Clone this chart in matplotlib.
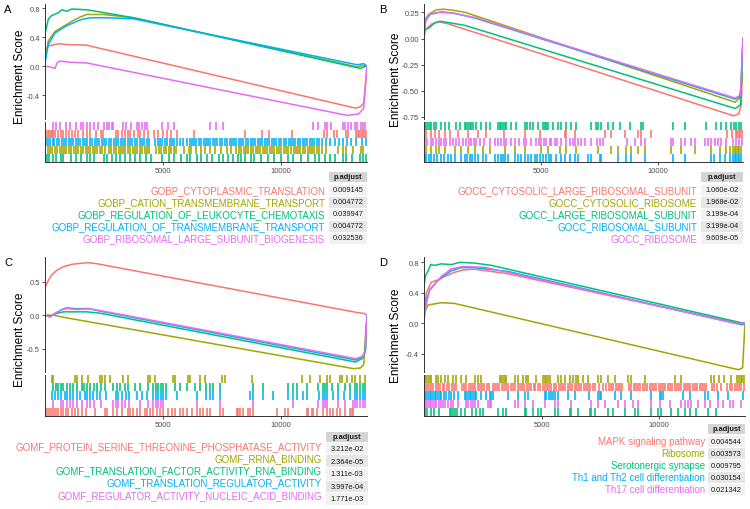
import matplotlib
matplotlib.use('Agg')
import matplotlib.pyplot as plt
from matplotlib.patches import Rectangle

plt.rcParams['font.family'] = ['Liberation Sans', 'DejaVu Sans']

N_GENES = 13650
X_TICKS = [5000, 10000]

# ---------------- panel A : GO BP ----------------
A_DESC = ['GOBP_CYTOPLASMIC_TRANSLATION', 'GOBP_CATION_TRANSMEMBRANE_TRANSPORT',
          'GOBP_REGULATION_OF_LEUKOCYTE_CHEMOTAXIS', 'GOBP_REGULATION_OF_TRANSMEMBRANE_TRANSPORT',
          'GOBP_RIBOSOMAL_LARGE_SUBUNIT_BIOGENESIS']
A_PADJ = ['0.009145', '0.004772', '0.039947', '0.004772', '0.032536']
A_YTICKS = [-0.4, 0.0, 0.4, 0.8]
A_ES_RANK = [
    [0, 140, 570, 920, 1770, 13160, 13370, 13510, 13650],
    [0, 140, 425, 780, 1130, 1490, 1770, 2480, 3750, 13230, 13440, 13650],
    [0, 140, 280, 570, 710, 920, 1130, 1770, 2330, 3750, 13230, 13370, 13510, 13650],
    [0, 140, 425, 920, 1490, 1910, 2620, 3750, 13230, 13510, 13650],
    [0, 210, 425, 520, 640, 1060, 1770, 12810, 13300, 13510, 13650],
]
A_ES_SCORE = [
    [0.21, 0.28, 0.31, 0.30, 0.29, -0.58, -0.56, -0.51, 0.0],
    [0.08, 0.35, 0.48, 0.55, 0.62, 0.68, 0.715, 0.715, 0.67, -0.01, 0.01, 0.0],
    [0.45, 0.65, 0.70, 0.74, 0.78, 0.76, 0.79, 0.78, 0.75, 0.67, -0.02, -0.03, -0.01, 0.0],
    [0.05, 0.30, 0.46, 0.56, 0.64, 0.67, 0.67, 0.655, 0.02, 0.035, 0.0],
    [0.0, -0.01, -0.03, 0.05, 0.07, 0.055, 0.045, -0.68, -0.66, -0.58, 0.0],
]
A_HITS = [
    [0, 60, 120, 180, 240, 300, 350, 420, 570, 670, 780, 890, 1030, 1130, 1270, 1410, 1600, 1770,
     1900, 2160, 2360, 2470, 3010, 3110, 3260, 3400, 3500, 3610, 3760, 3930, 4040, 4210, 4350, 4610,
     4780, 5000, 5170, 5340, 5600, 6310, 8470, 9210, 9500, 10490, 11840, 11950, 12240, 12380, 12750,
     12850, 13180, 13250, 13320, 13390, 13460, 13530, 13600],
    [20, 110, 230, 310, 420, 500, 620, 720, 800, 910, 1020, 1110, 1230, 1310, 1420, 1520, 1610, 1720,
     1830, 1910, 2020, 2130, 2210, 2330, 2420, 2560, 2700, 2790, 2910, 3010, 3120, 3210, 3320, 3410,
     3530, 3620, 3720, 3830, 3920, 4030, 4120, 4230, 4330, 4420, 4700, 4820, 4910, 5030, 5120, 5250,
     5350, 5470, 5560, 5900, 6100, 6200, 6420, 6600, 6800, 7000, 7200, 7450, 7700, 7900, 8100, 8230,
     8320, 8430, 8520, 8610, 8720, 8820, 8930, 9020, 9120, 9230, 9320, 9420, 9530, 9620, 9720, 9830,
     9920, 10020, 10130, 10230, 10320, 10420, 10540, 10620, 10730, 10830, 10920, 11030, 11130, 11220,
     11330, 11420, 11530, 11620, 11740, 11900, 12400, 12620, 12780, 13050, 13380, 13500],
    [70, 185, 355, 470, 665, 780, 1095, 1320, 1520, 1775, 1915, 2085, 2485, 2625, 2840, 3025, 3195,
     3410, 3595, 3835, 4045, 4300, 4475, 4970, 5255, 5465, 5750, 6035, 6150, 6460, 6605, 6885, 7100,
     7385, 7525, 7740, 7950, 8165, 8305, 8475, 8735, 8875, 9160, 9445, 9725, 10010, 10295, 10510,
     10865, 11145, 11460, 11600, 11855, 12070, 12285, 12640, 12780, 12995, 13350, 13490, 13590],
    [30, 130, 210, 320, 400, 520, 610, 700, 820, 900, 1010, 1120, 1200, 1310, 1400, 1500, 1620, 1710,
     1800, 1920, 2010, 2120, 2200, 2310, 2420, 2510, 2600, 2720, 2810, 2920, 3010, 3100, 3220, 3310,
     3400, 3520, 3610, 3700, 3810, 3920, 4010, 4110, 4200, 4320, 4420, 4680, 4780, 4870, 4980, 5080,
     5170, 5280, 5370, 5470, 5600, 5730, 5860, 6040, 6130, 6220, 6330, 6420, 6530, 6610, 6720, 6810,
     6920, 7010, 7130, 7220, 7310, 7420, 7520, 7610, 7720, 7830, 7910, 8020, 8110, 8230, 8320, 8410,
     8520, 8610, 8720, 8820, 8910, 9020, 9110, 9220, 9310, 9420, 9510, 9630, 9720, 9810, 9920, 10010,
     10120, 10210, 10330, 10420, 10520, 10610, 10730, 10820, 10930, 11020, 11120, 11230, 11330, 11420,
     11530, 11620, 11760, 11900, 12100, 12300, 12480, 12650, 12800, 12980, 13200, 13420, 13600],
    [340, 480, 650, 880, 1080, 1310, 1510, 1620, 1760, 1900, 2070, 2260, 2500, 2610, 2730, 2830, 2900,
     3320, 3440, 3640, 3890, 4000, 4100, 4240, 4340, 4960, 5210, 5450, 7010, 7230, 7550, 11350, 11560,
     11850, 11960, 12130, 12630, 12730, 12840, 12980, 13130, 13240, 13380, 13480, 13580],
]

# ---------------- panel B : GO CC ----------------
B_DESC = ['GOCC_CYTOSOLIC_LARGE_RIBOSOMAL_SUBUNIT', 'GOCC_CYTOSOLIC_RIBOSOME',
          'GOCC_LARGE_RIBOSOMAL_SUBUNIT', 'GOCC_RIBOSOMAL_SUBUNIT', 'GOCC_RIBOSOME']
B_PADJ = ['1.060e-02', '1.968e-02', '3.199e-04', '3.199e-04', '9.609e-05']
B_YTICKS = [-0.75, -0.50, -0.25, 0.00, 0.25]
B_ES_RANK = [
    [0, 40, 330, 615, 1040, 13250, 13470, 13580, 13650],
    [0, 70, 260, 540, 830, 1260, 1760, 13320, 13490, 13610, 13650],
    [0, 40, 260, 470, 685, 1115, 1760, 13320, 13540, 13650],
    [0, 70, 260, 755, 1330, 2185, 13320, 13540, 13650],
    [0, 70, 185, 615, 1185, 2185, 13320, 13540, 13650],
]
B_ES_SCORE = [
    [0.0, 0.08, 0.14, 0.16, 0.14, -0.74, -0.72, -0.63, 0.0],
    [0.05, 0.19, 0.24, 0.275, 0.28, 0.27, 0.25, -0.61, -0.57, -0.41, 0.0],
    [0.0, 0.08, 0.11, 0.15, 0.165, 0.15, 0.125, -0.67, -0.635, 0.0],
    [0.05, 0.17, 0.23, 0.255, 0.24, 0.195, -0.58, -0.55, 0.0],
    [0.05, 0.16, 0.23, 0.25, 0.245, 0.20, -0.57, -0.54, 0.0],
]
B_HITS = [
    [100, 285, 485, 630, 885, 1100, 1455, 1885, 2310, 2665, 3420, 4305, 4950, 6020, 6090, 6445, 7730,
     8015, 8585, 9155, 9300, 9725, 12970, 13180, 13330, 13400, 13470, 13540, 13610],
    [100, 315, 530, 630, 885, 1310, 1570, 1880, 2170, 2525, 2810, 3450, 3880, 4305, 5020, 5305, 5805,
     6090, 6515, 7445, 8015, 8300, 8655, 8870, 9155, 9440, 10580, 11010, 11580, 12290, 12650, 12935,
     13075, 13220, 13290, 13360, 13430, 13500, 13570],
    [30, 100, 170, 240, 310, 430, 530, 740, 885, 1055, 1385, 1525, 1740, 1810, 1880, 1955, 2025, 2095,
     2240, 2455, 2665, 2810, 3165, 3235, 3310, 3380, 3450, 3520, 3735, 3950, 4305, 4420, 4520, 4665,
     4875, 5090, 5160, 5235, 5305, 5520, 5730, 5875, 6090, 6300, 6515, 7160, 7370, 7445, 7560, 7870,
     8085, 8370, 8800, 9270, 9370, 10650, 11150, 12080, 12480, 12720, 12935, 13150, 13260, 13360,
     13460, 13575],
    [30, 100, 200, 315, 430, 570, 710, 855, 1025, 1170, 1310, 1600, 1740, 1855, 1955, 2055, 2170, 2310,
     2525, 2665, 3020, 3165, 3310, 3380, 3480, 3595, 3880, 4020, 4165, 4305, 4450, 4590, 4735, 4850,
     4950, 5090, 5235, 5335, 5450, 5660, 5875, 6020, 6230, 6445, 6590, 7015, 7160, 7515, 7585, 8300,
     8655, 8870, 9440, 10650, 11150, 12290, 12430, 12650, 12865, 13075, 13220, 13290, 13360, 13430,
     13500, 13570],
    [30, 140, 285, 385, 530, 630, 740, 855, 955, 1100, 1240, 1385, 1485, 1670, 1810, 1910, 2025, 2140,
     2240, 2380, 2570, 2810, 3020, 3165, 3280, 3420, 3520, 3735, 3910, 4050, 4280, 4380, 4590, 4810,
     4910, 5020, 5135, 5235, 5380, 5450, 5590, 5705, 5875, 6090, 6230, 6375, 6475, 6590, 6730, 6875,
     7160, 7415, 7515, 7660, 8700, 9010, 9300, 9440, 10580, 10650, 11010, 11150, 11440, 11580, 12010,
     12150, 12290, 12440, 12580, 12720, 12935, 13220, 13360, 13500, 13600],
]

# ---------------- panel C : GO MF ----------------
C_DESC = ['GOMF_PROTEIN_SERINE_THREONINE_PHOSPHATASE_ACTIVITY', 'GOMF_RRNA_BINDING',
          'GOMF_TRANSLATION_FACTOR_ACTIVITY_RNA_BINDING', 'GOMF_TRANSLATION_REGULATOR_ACTIVITY',
          'GOMF_REGULATOR_ACTIVITY_NUCLEIC_ACID_BINDING']
C_PADJ = ['3.212e-02', '2.364e-05', '1.311e-03', '3.997e-04', '1.771e-03']
C_YTICKS = [-0.5, 0.0, 0.5]
C_ES_RANK = [
    [0, 140, 280, 495, 780, 1130, 1490, 1840, 2190, 13230, 13540, 13650],
    [0, 355, 920, 13090, 13370, 13510, 13580, 13650],
    [0, 210, 425, 780, 1770, 2330, 13160, 13440, 13580, 13650],
    [0, 210, 425, 710, 920, 1340, 1840, 2330, 13160, 13440, 13580, 13650],
    [0, 210, 425, 710, 920, 1340, 1840, 2330, 13160, 13440, 13580, 13650],
]
C_ES_SCORE = [
    [0.41, 0.52, 0.60, 0.67, 0.725, 0.76, 0.775, 0.785, 0.77, 0.04, 0.025, 0.0],
    [0.0, 0.0, -0.04, -0.80, -0.79, -0.74, -0.34, 0.0],
    [0.0, -0.02, 0.02, 0.05, 0.05, 0.03, -0.70, -0.65, -0.54, 0.0],
    [0.0, -0.02, 0.02, 0.085, 0.11, 0.095, 0.10, 0.06, -0.67, -0.63, -0.54, 0.0],
    [0.0, -0.03, 0.03, 0.08, 0.10, 0.085, 0.095, 0.07, -0.65, -0.62, -0.54, 0.0],
]
C_HITS = [
    [42, 127, 212, 297, 382, 466, 565, 664, 777, 890, 989, 1130, 1271, 1413, 1554, 1738, 2120, 2543,
     2614, 2897, 3038, 3250, 3533, 3603, 3745, 3886, 4027, 4239, 4310, 4451, 4592, 4734, 4875, 5016,
     5228, 5370, 5511, 5723, 5864, 6005, 6217, 6429, 6570, 6712, 6853, 6994, 7418, 7560, 8125, 8196,
     8266, 8408, 8620, 8690, 8831, 9820, 10174, 10315, 11092, 11163, 11304, 11375, 11516, 11799, 11940,
     12081, 12222, 12364, 12505, 12717, 12929, 12999, 13070],
    [285, 355, 1270, 1345, 1555, 1835, 2330, 2405, 2545, 2755, 3320, 3530, 4380, 4450, 4665, 5440, 5510,
     6075, 6145, 6570, 6780, 7490, 7630, 8760, 10880, 11230, 11655, 11940, 12080, 12505, 12575, 12785,
     13000, 13140, 13350, 13560],
    [353, 466, 565, 664, 749, 947, 1060, 1201, 1371, 1554, 1667, 1766, 1908, 2077, 2190, 2360, 2543,
     2868, 3066, 3179, 3391, 3533, 3815, 4027, 4380, 4592, 4705, 4804, 4903, 5016, 5129, 5511, 5723,
     6005, 6359, 6570, 6825, 6994, 7107, 7418, 8831, 9255, 10315, 10527, 10668, 11092, 11587, 11770,
     11869, 11968, 12152, 12434, 12717, 12929, 13141, 13240, 13353, 13466, 13565],
    [283, 424, 565, 664, 848, 947, 1060, 1201, 1342, 1483, 1696, 1794, 1908, 2049, 2190, 2331, 2586,
     3010, 3109, 3250, 3434, 3575, 3914, 4098, 4310, 4592, 4705, 4804, 4903, 5016, 5129, 5582, 6429,
     6825, 6994, 7107, 7418, 8690, 8831, 9255, 9679, 10315, 10527, 10668, 10951, 11092, 11629, 11770,
     11869, 11968, 12194, 12434, 12675, 12929, 13141, 13240, 13353, 13466, 13565],
    [353, 664, 749, 947, 1060, 1201, 1371, 1554, 1766, 1908, 2077, 2360, 2868, 3010, 3109, 3250, 3391,
     3575, 4027, 4380, 4592, 4705, 4804, 4903, 5016, 6429, 7418, 8831, 10527, 11587, 11770, 11869,
     11968, 12434, 12717, 13070, 13141, 13240, 13353, 13466, 13565],
]

# ---------------- panel D : KEGG ----------------
D_DESC = ['MAPK signaling pathway', 'Ribosome', 'Serotonergic synapse',
          'Th1 and Th2 cell differentiation', 'Th17 cell differentiation']
D_PADJ = ['0.004544', '0.003573', '0.009795', '0.030154', '0.021342']
D_YTICKS = [-0.4, 0.0, 0.4, 0.8]
D_ES_RANK = [
    [0, 100, 310, 595, 880, 1305, 1660, 2155, 3575, 13370, 13510, 13650],
    [0, 170, 740, 1305, 13370, 13550, 13620, 13650],
    [0, 57, 170, 285, 455, 740, 1165, 1520, 2155, 2870, 13580, 13650],
    [0, 100, 240, 525, 810, 1165, 1590, 2155, 3575, 13510, 13650],
    [0, 100, 240, 525, 740, 1165, 1660, 2580, 13370, 13580, 13650],
]
D_ES_SCORE = [
    [0.17, 0.40, 0.54, 0.57, 0.615, 0.67, 0.70, 0.71, 0.65, 0.0, -0.01, 0.0],
    [0.13, 0.24, 0.27, 0.26, -0.61, -0.585, -0.17, 0.0],
    [0.48, 0.62, 0.685, 0.77, 0.76, 0.78, 0.77, 0.80, 0.79, 0.76, 0.0, 0.0],
    [0.13, 0.30, 0.44, 0.54, 0.615, 0.69, 0.73, 0.73, 0.68, -0.02, 0.0],
    [0.02, 0.26, 0.43, 0.54, 0.615, 0.715, 0.745, 0.735, -0.01, 0.01, 0.0],
]
D_HITS = [
    [30, 120, 200, 310, 390, 500, 590, 680, 790, 870, 980, 1070, 1180, 1260, 1370, 1600, 1700, 1790,
     1900, 1980, 2090, 2170, 2280, 2370, 2460, 2570, 2660, 2760, 2920, 3010, 3120, 3200, 3310, 3390,
     3500, 3590, 3680, 3790, 3870, 3980, 4070, 4180, 4260, 4370, 4460, 4550, 4660, 4740, 4850, 4940,
     5050, 5130, 5240, 5330, 5420, 5530, 5620, 5730, 5810, 5920, 6010, 6120, 6200, 6310, 6400, 6490,
     6600, 6690, 6790, 6880, 6990, 7080, 7190, 7280, 7460, 7620, 7760, 7850, 7960, 8040, 8150, 8240,
     8350, 8440, 8720, 8810, 8920, 9000, 9110, 9200, 9310, 9390, 9500, 9590, 9680, 9790, 9870, 9980,
     10070, 10180, 10260, 10370, 10460, 10550, 10660, 10740, 10850, 10940, 11050, 11130, 11240, 11330,
     11420, 11530, 11620, 11730, 11810, 11920, 12010, 12260, 12350, 12460, 12620, 12900, 13010, 13110,
     13220, 13300, 13400, 13490, 13590],
    [28, 99, 170, 241, 312, 524, 595, 737, 879, 1020, 1233, 1374, 1587, 1800, 2154, 2295, 2437, 3217,
     3288, 3358, 3429, 3500, 3854, 3996, 4209, 4350, 4421, 4775, 5059, 5130, 5200, 5271, 5342, 5696,
     5838, 5980, 6192, 6334, 6475, 6546, 6759, 6972, 7397, 7538, 7822, 8105, 8672, 8814, 9381, 10656,
     10939, 12186, 12328, 12541, 12753, 13037, 13320, 13391, 13462, 13533, 13604],
    [28, 142, 312, 425, 623, 1091, 1162, 1233, 1332, 1417, 1587, 1729, 2040, 2225, 2366, 2508, 3146,
     3358, 3500, 4280, 4350, 4634, 4846, 4988, 5555, 5696, 6192, 6263, 6546, 7042, 7113, 7255, 7822,
     8034, 8530, 8955, 9098, 9664, 9948, 10089, 10514, 10798, 11081, 11294, 11577, 12073, 12427],
    [28, 99, 170, 241, 312, 383, 453, 524, 595, 666, 737, 850, 949, 1049, 1162, 1275, 1445, 1729, 1800,
     1870, 1941, 2012, 2083, 2154, 2225, 2437, 2650, 2791, 2862, 2933, 3571, 3996, 4280, 4421, 5130,
     5200, 5300, 5413, 5484, 5583, 5696, 6121, 6405, 7001, 7397, 7468, 7538, 8105, 8389, 8814, 9664,
     10018, 10089, 10160, 11010, 11294, 11931, 12073, 12498, 12923, 13561],
    [28, 99, 170, 241, 312, 383, 453, 524, 623, 708, 808, 907, 1020, 1134, 1233, 1445, 1800, 1870, 1984,
     2083, 2182, 2295, 2721, 2791, 2862, 3854, 3996, 4280, 4634, 5130, 5555, 5696, 6263, 7113, 7397,
     7680, 8247, 8530, 8885, 9098, 9664, 10018, 10443, 10939, 11081, 11223, 11365, 11648, 11931, 12144,
     12498, 12711, 12994, 13135, 13490],
]

COLORS = ['#F8766D', '#A3A500', '#00BF7D', '#00B0F6', '#E76BF3']
W, H = 750, 510

fig = plt.figure(figsize=(7.5, 5.1), dpi=100)
bg = fig.add_axes([0, 0, 1, 1])
bg.set_xlim(0, W)
bg.set_ylim(H, 0)
bg.axis('off')


def add_ax(l, t, r, b):
    return fig.add_axes([l / W, 1 - b / H, (r - l) / W, (b - t) / H])


def draw_panel(letter, desc, padj, yticks, es_rank, es_score, hits, rug_order, ylim, lay):
    l, r, t, m, m2, b = lay['box']
    es = add_ax(l, t, r, m)
    rug = add_ax(l, m2, r, b)
    for k in range(5):
        es.plot(es_rank[k], es_score[k], color=COLORS[k], lw=1.1, solid_joinstyle='round')
    es.set_xlim(0, N_GENES)
    es.set_ylim(*ylim)
    es.set_yticks(yticks)
    fmt = '%.2f' if len(yticks) == 5 else '%.1f'
    es.set_yticklabels([fmt % v for v in yticks])
    es.set_xticks([])
    for s in ['top', 'right', 'bottom']:
        es.spines[s].set_visible(False)
    es.spines['left'].set_color('#333333')
    es.spines['left'].set_linewidth(0.7)
    es.tick_params(axis='y', length=2, width=0.6, color='#333333', labelsize=5.5,
                   labelcolor='#4d4d4d', pad=1.5)

    for row, k in enumerate(rug_order):
        y0 = 4 - row
        rug.vlines(hits[k], y0, y0 + 1, color=COLORS[k], lw=1.15)
    rug.set_xlim(0, N_GENES)
    rug.set_ylim(0, 5)
    rug.set_yticks([])
    rug.set_xticks(X_TICKS)
    rug.set_xticklabels([str(v) for v in X_TICKS])
    for s in ['top', 'right']:
        rug.spines[s].set_visible(False)
    for s in ['left', 'bottom']:
        rug.spines[s].set_color('#333333')
        rug.spines[s].set_linewidth(0.7)
    rug.tick_params(axis='x', length=2, width=0.6, color='#333333', labelsize=5.4,
                    labelcolor='#4d4d4d', pad=1.5)

    fig.text(lay['ylab'][0] / W, 1 - lay['ylab'][1] / H, 'Enrichment Score', rotation=90,
             ha='center', va='center', fontsize=8.6, color='black')
    fig.text(lay['letter'][0] / W, 1 - lay['letter'][1] / H, letter, ha='center', va='center',
             fontsize=8, color='black')

    tl, tr = lay['tab']
    hy = lay['head']
    bg.add_patch(Rectangle((tl, hy - 5), tr - tl, 10, facecolor='#d4d4d4', edgecolor='none'))
    bg.text((tl + tr) / 2, hy, 'p.adjust', ha='center', va='center', fontsize=5.3,
            fontweight='bold', color='#1a1a1a')
    y0, dy = lay['rows']
    dy0, ddy = lay['desc']
    for i in range(5):
        yy = y0 + i * dy
        bg.add_patch(Rectangle((tl, yy - dy / 2 + 0.5), tr - tl, dy - 1,
                               facecolor='#f2f2f2' if i % 2 == 0 else '#e6e6e6',
                               edgecolor='none'))
        bg.text((tl + tr) / 2, yy, padj[i], ha='center', va='center', fontsize=5.3,
                color='#1a1a1a')
        bg.text(lay['descx'], dy0 + i * ddy, desc[i], ha='right', va='center', fontsize=7.0,
                color=COLORS[i])


draw_panel('A', A_DESC, A_PADJ, A_YTICKS, A_ES_RANK, A_ES_SCORE, A_HITS, [4, 0, 3, 1, 2],
           (-0.73, 0.86),
           dict(box=(45, 367, 5, 120, 123, 163), ylab=(20, 77), letter=(8, 10), tab=(329, 367),
                head=177.5, rows=(191, 12), desc=(191, 12), descx=325))
draw_panel('B', B_DESC, B_PADJ, B_YTICKS, B_ES_RANK, B_ES_SCORE, B_HITS, [2, 0, 4, 1, 3],
           (-0.77, 0.33),
           dict(box=(424, 743, 5, 120, 123, 163), ylab=(396, 80), letter=(383, 10), tab=(701, 743),
                head=177.5, rows=(191, 12), desc=(191, 12), descx=697))
draw_panel('C', C_DESC, C_PADJ, C_YTICKS, C_ES_RANK, C_ES_SCORE, C_HITS, [1, 2, 3, 4, 0],
           (-0.85, 0.87),
           dict(box=(45, 367, 258, 373, 376, 417), ylab=(20, 340), letter=(8, 263), tab=(326, 368),
                head=437.5, rows=(449.5, 12.6), desc=(447, 12.2), descx=322))
draw_panel('D', D_DESC, D_PADJ, D_YTICKS, D_ES_RANK, D_ES_SCORE, D_HITS, [1, 0, 3, 4, 2],
           (-0.64, 0.87),
           dict(box=(424, 745, 258, 373, 376, 417), ylab=(396, 336), letter=(383, 263), tab=(708, 745),
                head=429.5, rows=(442.5, 12), desc=(442.5, 12), descx=705))

fig.savefig('out.png', dpi=100)
